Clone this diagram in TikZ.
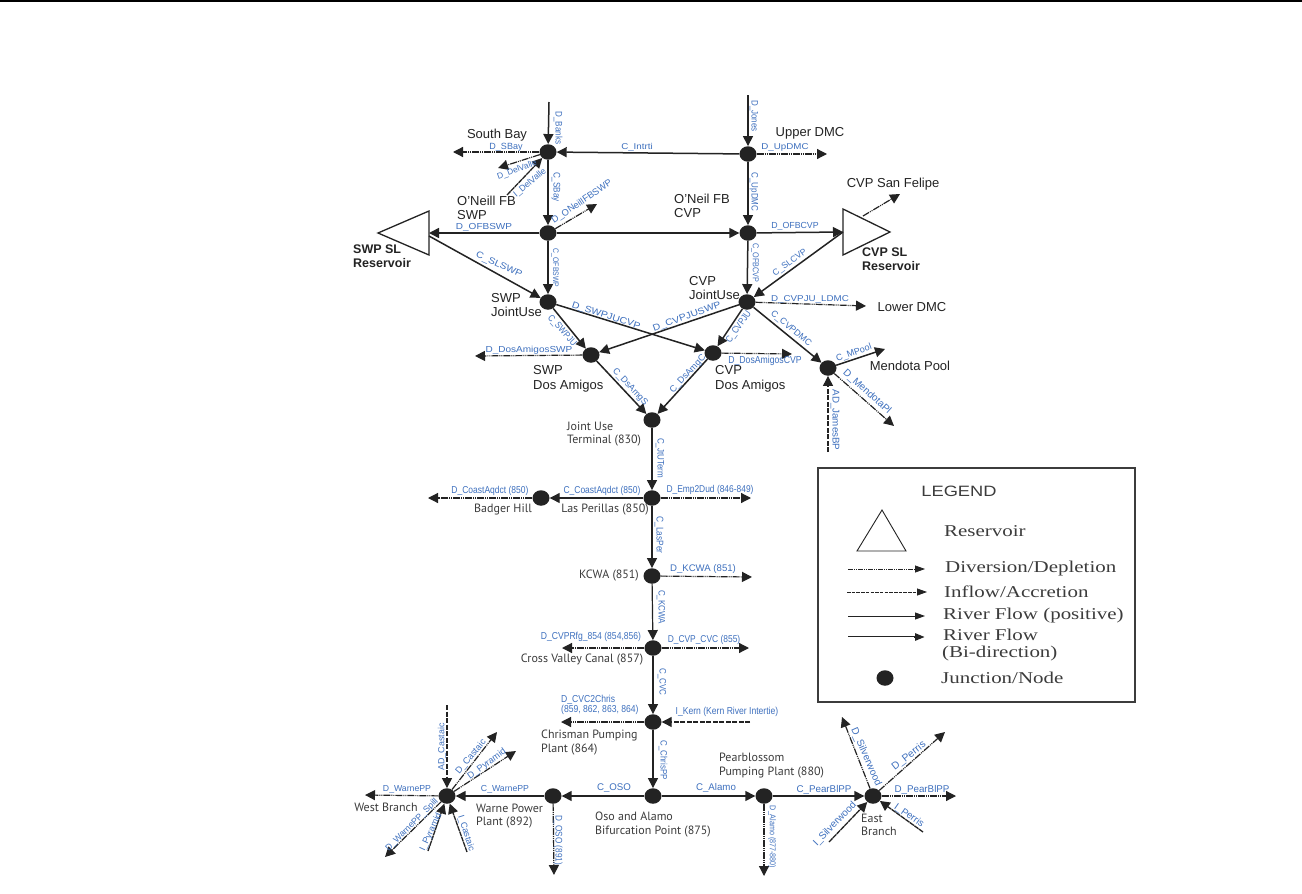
\documentclass[tikz,border=0pt]{standalone}
\usepackage{fontspec}
\setmainfont{Liberation Sans}
\newfontfamily\narrowfont[FakeStretch=.85]{Liberation Sans}
\newfontfamily\widefont[FakeStretch=1.15]{Liberation Sans}
\newfontfamily\myriadfont{PT Sans}
\newfontfamily\legendfont[FakeStretch=1.27]{Liberation Serif}
\newfontfamily\legendhead[FakeStretch=1.22]{Liberation Sans}
\usetikzlibrary{arrows.meta,shapes.geometric}
\definecolor{LabelBlue}{RGB}{62,112,190}
\definecolor{NodeBlack}{RGB}{35,35,35}
\definecolor{PlaceGray}{RGB}{60,60,60}
\newcommand{\fsize}[2]{\fontsize{#1}{#2}\selectfont}
\tikzset{
  junction/.style={ellipse,fill=NodeBlack,inner sep=0pt,minimum width=17pt,minimum height=15.5pt},
  riverflow/.style={line width=1.5pt,draw=NodeBlack,-{Triangle[length=10pt,width=10pt]}},
  riverthin/.style={riverflow,line width=1.2pt},
  diversion/.style={riverflow,line width=1.2pt,dash pattern=on 7pt off 1pt on 1pt off 1pt on 1pt off 1pt},
  inflow/.style={riverflow,line width=1.2pt,dash pattern=on 5pt off 1.5pt},
  inflowfine/.style={riverflow,line width=1.3pt,dash pattern=on 5pt off .6pt},
  reservoir/.style={line width=1.3pt,draw=NodeBlack,fill=white},
  lab/.style={text=LabelBlue,inner sep=0pt,font=\fsize{#1}{#1}},
  lab/.default=10,
  nlab/.style={lab,font=\narrowfont\fsize{#1}{#1}},
  wlab/.style={lab,font=\widefont\fsize{#1}{#1}},
  place/.style={inner sep=0pt,align=left,text=NodeBlack,font=\fsize{13}{14.5}},
  mplace/.style={inner sep=0pt,align=left,text=PlaceGray,font=\myriadfont\fsize{12}{13.5}},
  resname/.style={inner sep=0pt,align=left,text=NodeBlack,font=\bfseries\fsize{12.5}{14.5}},
  legendtext/.style={inner sep=0pt,align=left,anchor=west,text=PlaceGray,font=\legendfont\fsize{16.5}{18}},
  legendarrow/.style={-{Triangle[length=10pt,width=7pt]},draw=NodeBlack}
}
\begin{document}
\begin{tikzpicture}[x=1pt,y=-1pt]
  \useasboundingbox (0,0) rectangle (1302,894);
  \fill[white] (0,0) rectangle (1302,894);
  \draw[line width=1.5pt,black] (0,1)--(1302,1);
  \draw[reservoir] (378,233)--(429,211)--(429,255)--cycle;
  \draw[reservoir] (843,209)--(890,232)--(843,255)--cycle;
  \foreach \name/\x/\y in {sbay/548/152,updmc/748/154,ofswp/548/233,ofcvp/748/233,
    swpju/548/302,cvpju/747/302,swpda/591/355,cvpda/713/353,mendota/828/368,
    jut/652/420,lasp/652/498,badger/541/498,kcwa/652/576,cvc/653/648,chris/653/722,
    oso/653/796,warne/553/796,west/447/796,pearl/764/796,east/873/796}
    \node[junction] (\name) at (\x,\y) {};
  \foreach \name/\x/\y in {banksin/549/102,jonesin/748/95,sbayout/453/152,dvout/498/168,dvin/507/195,
    ofswpout/597/204,updmcout/827/154,swpres/429/233,swpresb/429/236,cvpres/843/232,felipein/863/216,
    felipeout/900/194,ldmcout/866/306,mpoolout/885/349,mendout/894/426,jamesin/828/452,
    cvpdaout/792/354,swpdaout/475/356,coastout/428/498,empout/751/498,kcwaout/752/577,
    rfgout/562/648,cvcout/749/648,chrisout/561/722,kernin/750/722,alamoout/764/876,osoout/554/875,
    warneout/365/795,castin/447/705,castout/497/732,pyrout/516/751,spillout/385/857,
    pyrin/428/851,castiin/467/852,silvout/842/717,perrout/945/732,pearout/956/796,
    silvin/829/842,perrin/923/832}
    \coordinate (\name) at (\x,\y);
  \foreach \a/\b in {banksin/sbay,jonesin/updmc,updmc/sbay,sbay/ofswp,updmc/ofcvp,ofswp/swpres,
    ofswp/ofcvp,ofcvp/cvpres,ofswp/swpju,ofcvp/cvpju,swpresb/swpju,cvpres/cvpju,swpju/swpda,
    swpju/cvpda,cvpju/swpda,cvpju/cvpda,cvpju/mendota,mendota/mpoolout,swpda/jut,cvpda/jut,
    oso/warne,oso/pearl,pearl/east,warne/west}
    \draw[riverflow] (\a)--(\b);
  \foreach \a/\b in {jut/lasp,lasp/badger,lasp/kcwa,kcwa/cvc,cvc/chris,chris/oso}
    \draw[riverthin] (\a)--(\b);
  \foreach \a/\b in {sbay/sbayout,sbay/dvout,ofswp/ofswpout,updmc/updmcout,felipein/felipeout,
    cvpju/ldmcout,mendota/mendout,cvpda/cvpdaout,swpda/swpdaout,badger/coastout,lasp/empout,
    kcwa/kcwaout,cvc/rfgout,cvc/cvcout,chris/chrisout,pearl/alamoout,warne/osoout,west/warneout,
    west/castout,west/pyrout,west/spillout,east/silvout,east/perrout,east/pearout}
    \draw[diversion] (\a)--(\b);
  \foreach \a/\b in {jamesin/mendota,kernin/chris,castin/west}
    \draw[inflow] (\a)--(\b);
  \foreach \a/\b in {dvin/sbay,pyrin/west,castiin/west,silvin/east,perrin/east}
    \draw[inflowfine] (\a)--(\b);
  \node[nlab=9.5,rotate=-90] (lbanks) at (558,128) {D\_Banks};
  \node[lab=9] (lsbay) at (506,147) {D\_SBay};
  \node[lab=8.4,rotate=20] (ldelvalle) at (517,170) {D\_DelValle};
  \node[lab=8.8,rotate=40] (lidelvalle) at (530,183) {I\_DelValle};
  \node[nlab=9.6,rotate=-90] (lcsbay) at (556,187) {C\_SBay};
  \node[lab=9.3,rotate=34] (loneill) at (582,202) {D\_ONeillFBSWP};
  \node[wlab=8.7] (lofswp) at (484,227) {D\_OFBSWP};
  \node[wlab=9,rotate=-24] (lslswp) at (499,265) {C\_SLSWP};
  \node[nlab=8,rotate=-90] (lcofswp) at (555,268) {C\_OFBSWP};
  \node[wlab=8.5] (lintrti) at (637,147) {C\_Intrti};
  \node[nlab=9.4,rotate=-90] (ljones) at (754,116) {D\_Jones};
  \node[wlab=8.5] (lupdmc) at (785,147) {D\_UpDMC};
  \node[nlab=9.4,rotate=-90] (lcupdmc) at (754,192) {C\_UpDMC};
  \node[lab=8.8] (lofcvp) at (795,226) {D\_OFBCVP};
  \node[nlab=8.5,rotate=-90] (lcofcvp) at (755,263) {C\_OFBCVP};
  \node[lab=8.7,rotate=36] (lslcvp) at (790,263) {C\_SLCVP};
  \node[wlab=8.5] (lldmc) at (810,299) {D\_CVPJU\_LDMC};
  \node[nlab=9.4,rotate=-48] (lswpju) at (562,331) {C\_SWPJU};
  \node[wlab=9.1,rotate=-18] (lswpcvp) at (606,316) {D\_SWPJUCVP};
  \node[wlab=9.1,rotate=20] (lcvpswp) at (687,317) {D\_CVPJUSWP};
  \node[wlab=8.7] (ldaswp) at (529,350) {D\_DosAmigosSWP};
  \node[lab=9,rotate=-47] (ldasgs) at (630,387) {C\_DsAmgS};
  \node[lab=9.1,rotate=47] (ldasgc) at (688,374) {C\_DsAmgC};
  \node[nlab=9.5,rotate=55] (lcvpju) at (739,327) {C\_CVPJU};
  \node[lab=8.9,rotate=-40] (lcvpdmc) at (791,329) {C\_CVPDMC};
  \node[nlab=10.2] (ldacvp) at (765,361) {D\_DosAmigosCVP};
  \node[lab=9,rotate=20] (lmpool) at (854,353) {C\_MPool};
  \node[lab,rotate=-42] (lmendpl) at (867,392) {D\_MendotaPl};
  \node[lab=9.8,rotate=-90] (ljames) at (835,420) {AD\_JamesBP};
  \node[nlab=9.4,rotate=-90] (ljtterm) at (660,458) {C\_JtUTerm};
  \node[nlab=10] (lcoast) at (490,491) {D\_CoastAqdct (850)};
  \node[nlab=10] (lccoast) at (602,491) {C\_CoastAqdct (850)};
  \node[nlab=9.9] (lemp) at (710,490) {D\_Emp2Dud (846-849)};
  \node[nlab=9.8,rotate=-90] (llasper) at (659,535) {C\_LasPer};
  \node[lab=9.6] (ldkcwa) at (703,569) {D\_KCWA (851)};
  \node[nlab=9.4,rotate=-90] (lckcwa) at (661,607) {C\_KCWA};
  \node[nlab=10.1] (lrfg) at (591,637) {D\_CVPRfg\_854 (854,856)};
  \node[nlab=9.9] (lcvpcvc) at (704,640) {D\_CVP\_CVC (855)};
  \node[nlab=9.4,rotate=-90] (lccvc) at (662,682) {C\_CVC};
  \node[nlab=10.1,align=left,anchor=west] (lc2c) at (561,705) {D\_CVC2Chris\\(859, 862, 863, 864)};
  \node[nlab=10.1] (lkern) at (727,712) {I\_Kern (Kern River Intertie)};
  \node[nlab=9.3,rotate=-90] (lchrispp) at (663,760) {C\_ChrisPP};
  \node[lab=9.7] (loso) at (614,788) {C\_OSO};
  \node[lab=9.7] (lalamo) at (716,788) {C\_Alamo};
  \node[nlab=8.4,rotate=-90] (ldalamo) at (772,837) {D\_Alamo (877-880)};
  \node[lab=8.9,rotate=90] (ladcast) at (442,747) {AD\_Castaic};
  \node[lab=9.1,rotate=50] (ldcast) at (471,757) {D\_Castaic};
  \node[lab=9.1,rotate=36] (ldpyr) at (487,764) {D\_Pyramid};
  \node[lab=8.7] (lwarne) at (407,789) {D\_WarnePP};
  \node[lab=8.7] (lcwarne) at (505,789) {C\_WarnePP};
  \node[lab=8.8,rotate=45] (lspill) at (412,825) {D\_WarnePP\_Spill};
  \node[lab=9,rotate=65] (lipyr) at (431,832) {I\_Pyramid};
  \node[lab=8.9,rotate=-72] (licast) at (466,833) {I\_Castaic};
  \node[nlab=9.6,rotate=-90] (ldoso) at (558,840) {D\_OSO (891)};
  \node[lab,rotate=-66] (ldsilv) at (866,757) {D\_Silverwood};
  \node[lab=10.3,rotate=38] (ldperr) at (909,756) {D\_Perris};
  \node[lab=9.8] (lcpear) at (824,790) {C\_PearBlPP};
  \node[lab=9.8] (ldpear) at (922,790) {D\_PearBlPP};
  \node[lab,rotate=46] (lisilv) at (835,824) {I\_Silverwood};
  \node[lab=9.8,rotate=-35] (liperr) at (909,816) {I\_Perris};
  \node[place] (southbay) at (497,135) {South Bay};
  \node[place] (upperdmc) at (810,133) {Upper DMC};
  \node[place,anchor=west] (oneilswp) at (457,208) {O'Neill FB\\SWP};
  \node[place,anchor=west] (oneilcvp) at (674,206) {O'Neil FB\\CVP};
  \node[place] (sanfelipe) at (893,184) {CVP San Felipe};
  \node[resname,anchor=west] (swpsl) at (353,256) {SWP SL\\Reservoir};
  \node[resname,anchor=west] (cvpsl) at (862,259) {CVP SL\\Reservoir};
  \node[place,anchor=west] (swpjoint) at (491,305) {SWP\\JointUse};
  \node[place,anchor=west] (cvpjoint) at (689,288) {CVP\\JointUse};
  \node[place,anchor=west] (swpdos) at (533,379) {SWP\\Dos Amigos};
  \node[place,anchor=west] (cvpdos) at (715,379) {CVP\\Dos Amigos};
  \node[place] (lowerdmc) at (912,307) {Lower DMC};
  \node[place] (mendpool) at (910,366) {Mendota Pool};
  \node[mplace,anchor=west] (jointuse) at (567,434) {Joint Use\\Terminal (830)};
  \node[mplace] (badgerhill) at (503,510) {Badger Hill};
  \node[mplace] (perillas) at (605,510) {Las Perillas (850)};
  \node[mplace] (kcwaname) at (609,576) {KCWA (851)};
  \node[mplace] (crossvalley) at (582,660) {Cross Valley Canal (857)};
  \node[mplace,anchor=west] (chrisman) at (541,742.5) {Chrisman Pumping\\Plant (864)};
  \node[mplace,anchor=west] (pearblossom) at (719,765.5) {Pearblossom\\Pumping Plant (880)};
  \node[mplace,anchor=west] (osoalamo) at (595,824.5) {Oso and Alamo\\Bifurcation Point (875)};
  \node[mplace,anchor=west] (warnepower) at (476,816) {Warne Power\\Plant (892)};
  \node[mplace] (westbranch) at (386,807) {West Branch};
  \node[mplace,anchor=west] (eastbranch) at (861,825) {East\\Branch};
  \draw[line width=2.2pt,draw=PlaceGray] (818,468) rectangle (1135,702);
  \node[inner sep=0pt,text=PlaceGray,font=\legendhead\fsize{15}{15}] (legendtitle) at (959,491) {LEGEND};
  \draw[line width=.9pt,draw=NodeBlack] (882,510)--(906,551)--(857,551)--cycle;
  \node[junction] (legendnode) at (885,678) {};
  \foreach \name/\x/\y in {diva/848/569,divb/925/569,infa/847/592,infb/927/592,posa/848/616,posb/925/616,bia/848/637,bib/925/637,bic/914/637}
    \coordinate (\name) at (\x,\y);
  \draw[legendarrow,line width=.8pt,dash pattern=on 5pt off 1pt on 1pt off 1pt on 1pt off 1pt] (diva)--(divb);
  \draw[legendarrow,line width=.8pt,dash pattern=on 3.5pt off 1.2pt] (infa)--(infb);
  \draw[legendarrow,line width=.9pt] (posa)--(posb);
  \draw[legendarrow,line width=2.8pt] (bia)--(bib);
  \draw[line width=.7pt,white] (bia)--(bic);
  \node[legendtext] (tres) at (944,531) {Reservoir};
  \node[legendtext] (tdiv) at (945,569) {Diversion/Depletion};
  \node[legendtext] (tinf) at (944,592) {Inflow/Accretion};
  \node[legendtext] (tpos) at (943,616) {River Flow (positive)};
  \node[legendtext] (tbia) at (943,635) {River Flow};
  \node[legendtext] (tbib) at (942,654) {(Bi-direction)};
  \node[legendtext] (tnode) at (941,678) {Junction/Node};
\end{tikzpicture}
\end{document}
